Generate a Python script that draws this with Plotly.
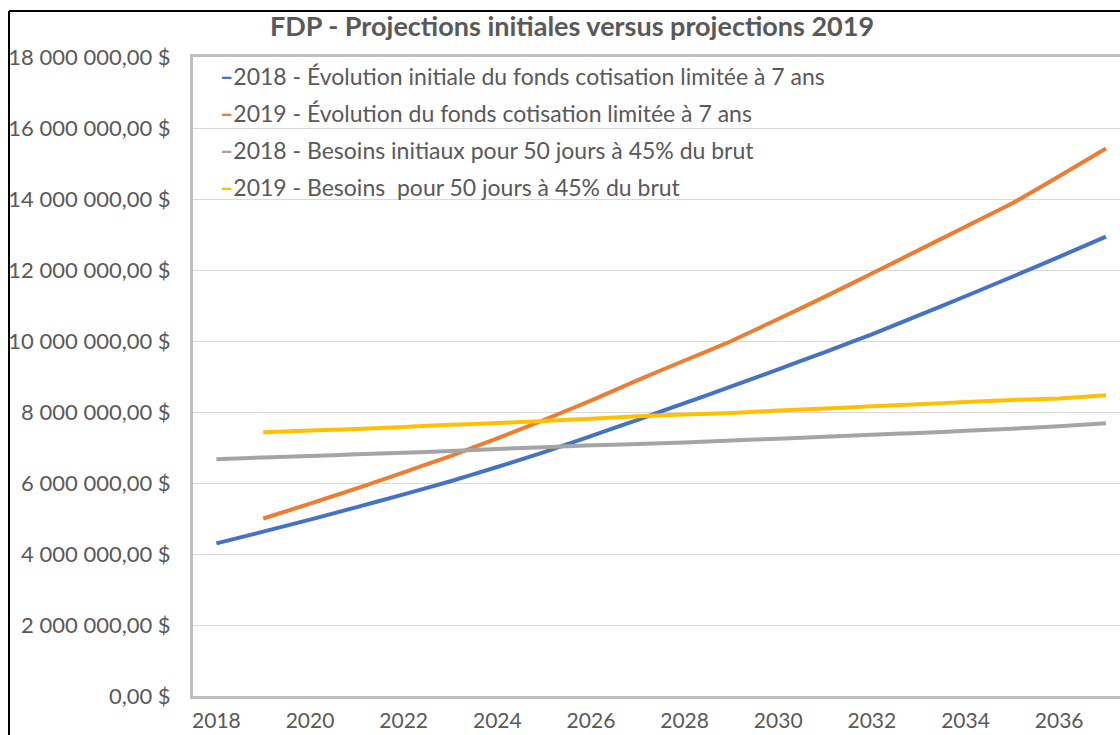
import plotly.graph_objects as go

# ---- data ----
years = list(range(2018, 2038))
years_2019 = list(range(2019, 2038))

evol_2018 = [4.30, 4.63, 4.97, 5.32, 5.68, 6.05, 6.45, 6.87, 7.32, 7.78,
             8.25, 8.72, 9.20, 9.69, 10.19, 10.72, 11.26, 11.81, 12.37, 12.94]
evol_2019 = [5.00, 5.42, 5.85, 6.30, 6.76, 7.26, 7.78, 8.32, 8.90, 9.45,
             10.00, 10.62, 11.25, 11.90, 12.56, 13.22, 13.88, 14.64, 15.42]
besoins_2018 = [6.67, 6.72, 6.76, 6.81, 6.85, 6.90, 6.96, 7.01, 7.06, 7.10,
                7.14, 7.20, 7.25, 7.30, 7.36, 7.41, 7.47, 7.53, 7.60, 7.68]
besoins_2019 = [7.43, 7.48, 7.52, 7.58, 7.64, 7.69, 7.75, 7.81, 7.88, 7.93,
                7.97, 8.04, 8.10, 8.16, 8.22, 8.28, 8.34, 8.38, 8.47]

series_names = [
    "2018 - Évolution initiale du fonds cotisation limitée à 7 ans",
    "2019 - Évolution du fonds cotisation limitée à 7 ans",
    "2018 - Besoins initiaux pour 50 jours à 45% du brut",
    "2019 - Besoins  pour 50 jours à 45% du brut",
]
series_colors = ["#4472C4", "#ED7D31", "#A5A5A5", "#FFC000"]

y_tickvals = [0, 2e6, 4e6, 6e6, 8e6, 10e6, 12e6, 14e6, 16e6, 18e6]
y_ticktext = ["0,00 $", "2 000 000,00 $", "4 000 000,00 $", "6 000 000,00 $",
              "8 000 000,00 $", "10 000 000,00 $", "12 000 000,00 $",
              "14 000 000,00 $", "16 000 000,00 $", "18 000 000,00 $"]
x_tickvals = list(range(2018, 2038, 2))

title_text = "FDP - Projections initiales versus projections 2019"

# ---- figure ----
W, H = 1120, 735
ML, MT, MB = 193, 57, 39
PW, PH = W - ML, H - MT - MB

FONT = "Lato, 'Open Sans', sans-serif"
GREY_TXT = "#595959"

fig = go.Figure()
xs = [years, years_2019, years, years_2019]
ys = [evol_2018, evol_2019, besoins_2018, besoins_2019]
for name, color, x, y in zip(series_names, series_colors, xs, ys):
    fig.add_trace(go.Scatter(
        x=x, y=[v * 1e6 for v in y], mode="lines", name=name,
        line=dict(color=color, width=4, shape="spline", smoothing=0.3),
        showlegend=False,
    ))

# legend drawn as text entries at top-left of the plot area
for i, (name, color) in enumerate(zip(series_names, series_colors)):
    ypix = 76 + 37 * i
    fig.add_annotation(
        xref="paper", yref="paper",
        x=(218 - ML) / PW, y=(H - MB - ypix) / PH,
        xanchor="left", yanchor="middle", showarrow=False,
        text=f'<span style="color:{color};font-weight:900">–</span>{name}',
        font=dict(family=FONT, size=23, color=GREY_TXT),
    )

# black frame fragments (image border)
fig.add_shape(type="line", xref="paper", yref="paper",
              x0=(9 - ML) / PW, x1=(9 - ML) / PW,
              y0=(H - MB - 11) / PH, y1=-0.1,
              line=dict(color="black", width=2))
fig.add_shape(type="line", xref="paper", yref="paper",
              x0=(9 - ML) / PW, x1=1.05,
              y0=(H - MB - 11) / PH, y1=(H - MB - 11) / PH,
              line=dict(color="black", width=2))

fig.update_layout(
    width=W, height=H,
    margin=dict(l=ML, r=0, t=MT, b=MB),
    paper_bgcolor="white", plot_bgcolor="white",
    title=dict(text=f"<b>{title_text}</b>", x=572 / W, xanchor="center",
               y=1 - 27 / H, yanchor="middle",
               font=dict(family=FONT, size=27, color=GREY_TXT)),
    xaxis=dict(range=[2017.5, 2037.3], tickvals=x_tickvals,
               showgrid=False, zeroline=False,
               showline=True, linecolor="#BFBFBF", linewidth=3, mirror=True,
               ticks="", ticklabelstandoff=4,
               tickfont=dict(family=FONT, size=21, color=GREY_TXT)),
    yaxis=dict(range=[0, 18e6], tickvals=y_tickvals, ticktext=y_ticktext,
               showgrid=True, gridcolor="#D9D9D9", gridwidth=1,
               zeroline=False, showline=True, linecolor="#BFBFBF", linewidth=3,
               ticks="", ticklabelstandoff=15,
               tickfont=dict(family=FONT, size=22, color=GREY_TXT)),
)

fig.write_html(
    "out.html",
    config={"displayModeBar": False},
    post_script="document.body.style.margin='0';document.body.style.overflow='hidden';",
)
